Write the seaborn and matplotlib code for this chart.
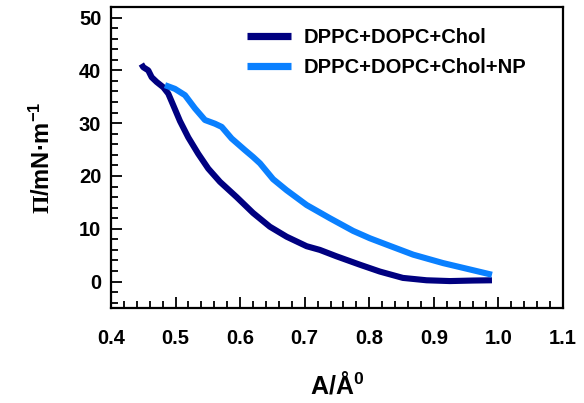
import matplotlib
matplotlib.use("Agg")
import matplotlib.pyplot as plt
from matplotlib.ticker import MultipleLocator, FormatStrFormatter
import seaborn as sns
import pandas as pd

# Data
x_lipid = [0.447, 0.450, 0.4577, 0.463, 0.4707, 0.481, 0.4887, 0.4964, 0.5068, 0.5197,
           0.5351, 0.5506, 0.5687, 0.5946, 0.620, 0.646, 0.672, 0.703, 0.7235, 0.749,
           0.7854, 0.8164, 0.852, 0.8887, 0.9248, 0.961, 0.990]
y_lipid = [41.2, 40.6, 40.0, 38.7, 37.8, 36.8, 35.6, 33.4, 30.4, 27.3,
           24.2, 21.4, 18.9, 16.0, 13.0, 10.4, 8.5, 6.7, 6.0, 4.8,
           3.2, 1.9, 0.7, 0.25, 0.1, 0.2, 0.25]
x_np = [0.4836, 0.499, 0.5146, 0.530, 0.5455, 0.561, 0.5714, 0.5868, 0.6074, 0.620,
        0.6307, 0.651, 0.672, 0.703, 0.739, 0.775, 0.801, 0.8268, 0.868, 0.9144,
        0.9557, 0.990]
y_np = [37.2, 36.5, 35.3, 32.8, 30.6, 29.9, 29.3, 27.1, 24.9, 23.6,
        22.4, 19.4, 17.3, 14.5, 12.0, 9.6, 8.2, 7.0, 5.1, 3.5,
        2.3, 1.3]
series_names = ["DPPC+DOPC+Chol", "DPPC+DOPC+Chol+NP"]
colors = ["#000080", "#0a80ff"]

df = pd.concat([
    pd.DataFrame({"A": x_lipid, "P": y_lipid, "s": series_names[0]}),
    pd.DataFrame({"A": x_np, "P": y_np, "s": series_names[1]}),
], ignore_index=True)

sns.set_style("ticks")
plt.rcParams["font.family"] = ["Liberation Sans", "DejaVu Sans"]
plt.rcParams["font.weight"] = "bold"
for k in ["text.color", "axes.labelcolor", "xtick.color", "ytick.color", "axes.edgecolor"]:
    plt.rcParams[k] = "black"
plt.rcParams["mathtext.fontset"] = "custom"
plt.rcParams["mathtext.rm"] = "Liberation Serif"
plt.rcParams["mathtext.bf"] = "Liberation Sans:bold"
plt.rcParams["mathtext.it"] = "Liberation Sans:bold"

fig = plt.figure(figsize=(5.84, 4.03), dpi=100)
ax = fig.add_axes([111/584, 1-308/403, (563-111)/584, (308-7)/403])

sns.lineplot(data=df, x="A", y="P", hue="s", hue_order=series_names,
             palette=colors, sort=False, estimator=None, linewidth=4.4,
             ax=ax, legend=True)
for ln in ax.get_lines():
    ln.set_solid_capstyle("butt")
    ln.set_solid_joinstyle("round")

ax.set_xlim(0.4, 1.1)
ax.set_ylim(-5, 52)
ax.xaxis.set_major_locator(MultipleLocator(0.1))
ax.xaxis.set_minor_locator(MultipleLocator(0.02))
ax.yaxis.set_major_locator(MultipleLocator(10))
ax.yaxis.set_minor_locator(MultipleLocator(2))
ax.tick_params(which="both", direction="in", top=False, right=False, width=1.3, color="black")
ax.tick_params(which="major", length=8, labelsize=14.5)
ax.tick_params(axis="x", which="major", pad=15)
ax.tick_params(axis="y", which="major", pad=7)
ax.tick_params(which="minor", length=5)
ax.xaxis.set_major_formatter(FormatStrFormatter("%.1f"))
for lab in ax.get_xticklabels() + ax.get_yticklabels():
    lab.set_fontweight("bold")
for sp in ax.spines.values():
    sp.set_visible(True)
    sp.set_linewidth(1.6)
    sp.set_color("black")

ax.set_xlabel(r"$\mathbf{A/Å}^{\mathbf{0}}$", fontsize=18, labelpad=17)
ax.set_ylabel(r"$\mathrm{\Pi}\mathbf{/mN·m}^{\mathbf{-1}}$", fontsize=17, labelpad=17)

leg = ax.legend(frameon=False, loc="upper left", bbox_to_anchor=(0.301, 0.93),
                borderpad=0, borderaxespad=0,
                handlelength=2.2, handletextpad=0.62, labelspacing=0.55,
                prop={"weight": "bold", "size": 14.5})
for h in leg.legend_handles:
    h.set_linewidth(5.2)
    h.set_solid_capstyle("butt")

fig.savefig("out.png", dpi=100)
